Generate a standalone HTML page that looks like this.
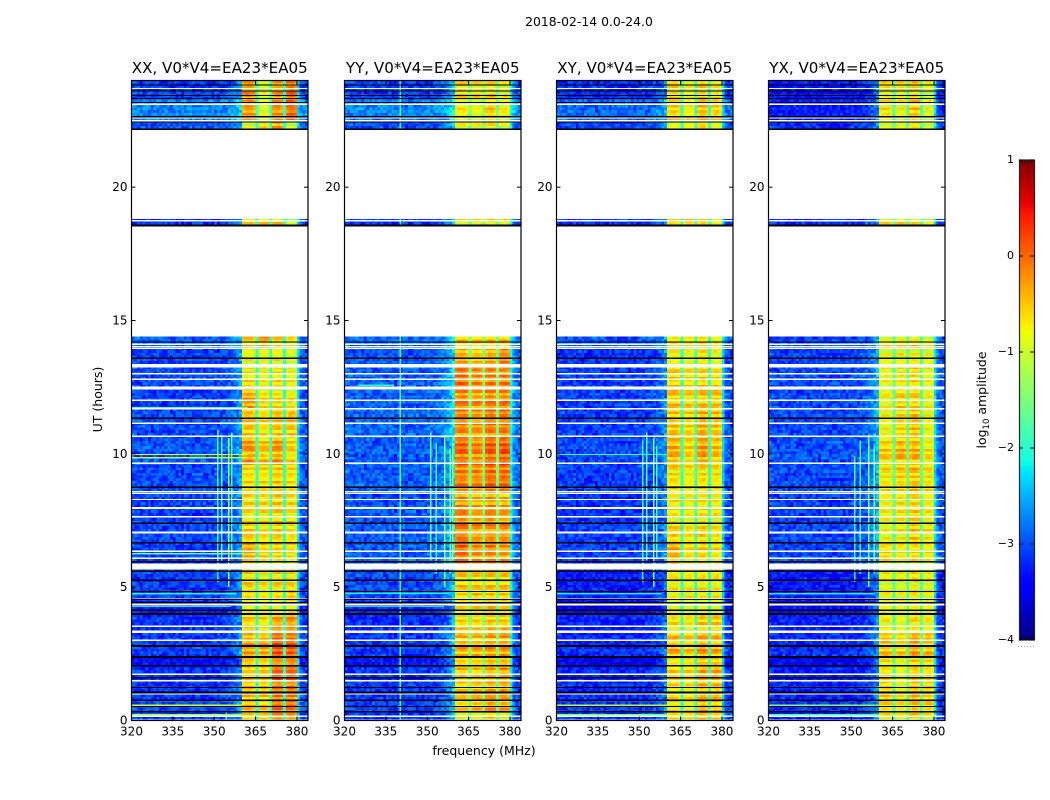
<!DOCTYPE html>
<html>
<head>
<meta charset="utf-8">
<title>2018-02-14 0.0-24.0</title>
<style>
html,body{margin:0;padding:0;background:#fff;width:1050px;height:800px;overflow:hidden}
svg{display:block}
text{font-family:"DejaVu Sans","Liberation Sans",sans-serif;fill:#000}
</style>
</head>
<body>
<svg id="figure" xmlns="http://www.w3.org/2000/svg" width="1050" height="800" viewBox="0 0 1050 800">
  <rect x="0" y="0" width="1050" height="800" fill="#ffffff"/>
  <text x="589" y="26" font-size="12.4" text-anchor="middle">2018-02-14 0.0-24.0</text>
  <text x="484" y="755" font-size="12.5" text-anchor="middle">frequency (MHz)</text>
  <text transform="translate(102,399.5) rotate(-90)" font-size="12.5" text-anchor="middle">UT (hours)</text>
  <text transform="translate(986,400) rotate(-90)" font-size="12.5" text-anchor="middle">log<tspan font-size="8.5" dy="3">10</tspan><tspan dy="-3"> amplitude</tspan></text>
</svg>
<script>
// ---------- chart data ----------
const panelTitles = ["XX, V0*V4=EA23*EA05", "YY, V0*V4=EA23*EA05", "XY, V0*V4=EA23*EA05", "YX, V0*V4=EA23*EA05"];
const freqTicks = [320, 335, 350, 365, 380];
const hourTicks = [0, 5, 10, 15, 20];
const colorbarTicks = [-4, -3, -2, -1, 0, 1];

// time segments with data, hours
const segmentHours = [[0,0.3],[0.3,0.8],[0.8,1.5],[1.5,2.0],[2.0,2.4],[2.4,3.2],[3.2,4.0],[4.0,4.5],[4.5,5.0],[5.0,5.9],[5.9,6.7],[6.7,7.4],[7.4,8.5],[8.5,9.6],[9.6,10.6],[10.6,11.7],[11.7,12.5],[12.5,13.3],[13.3,14.0],[14.0,14.4],[18.5,18.8],[22.1,22.5],[22.5,23.3],[23.3,24.0]];

// background log amplitude per segment
const backgroundXX = [-3.1,-3.0,-3.15,-3.15,-3.4,-3.1,-3.15,-3.3,-3.1,-3.1,-3.1,-3.05,-3.1,-3.05,-3.0,-3.05,-3.1,-3.05,-3.1,-2.95,-3.2,-3.0,-2.75,-3.1];
const backgroundYY = [-3.15,-3.1,-3.15,-3.15,-3.35,-3.15,-3.2,-3.3,-3.05,-3.05,-2.95,-2.95,-3.0,-2.95,-2.95,-2.9,-2.95,-2.95,-3.0,-2.9,-3.1,-3.0,-2.75,-3.1];
const backgroundXY = [-3.15,-3.1,-3.2,-3.25,-3.45,-3.2,-3.25,-3.45,-3.3,-3.3,-3.1,-3.1,-3.15,-3.1,-3.05,-3.1,-3.1,-3.1,-3.15,-3.0,-3.2,-3.1,-2.9,-3.2];
const backgroundYX = [-3.25,-3.2,-3.25,-3.25,-3.45,-3.2,-3.25,-3.4,-3.3,-3.3,-3.05,-3.05,-3.1,-3.05,-3.0,-3.05,-3.05,-3.05,-3.1,-3.05,-3.2,-3.2,-3.3,-3.35];

// four sub-band levels per segment
const bandsXX = [[-.7,-.7,-.3,-.4],[-.45,-.55,-.05,-.05],[-.5,-.55,-.15,-.15],[-.55,-.55,.05,0],[-.55,-.6,-.3,-.2],[-.35,-.35,.1,.05],[-.55,-.65,-.3,-.25],[-.8,-.8,-.8,-.7],[-.7,-.8,-.7,-.6],[-.7,-.8,-.7,-.7],[-.4,-.6,-.6,-.7],[-.6,-.7,-.6,-.7],[-.7,-.7,-.6,-.7],[-.7,-.7,-.6,-.7],[-.35,-.55,-.35,-.65],[-.55,-.7,-.55,-.55],[-.35,-.65,-.65,-.75],[-.7,-.8,-.7,-.8],[-.9,-.9,-.85,-1],[-.7,-.5,-.7,-.85],[-.7,-.6,-.6,-1.2],[-.95,-.7,-.3,-1.05],[-.35,-1,-.3,-.1],[-.35,-1,-.4,-.15]];
const bandsYY = [[-.85,-.8,-.5,-.8],[-.65,-.55,-.35,-.45],[-.65,-.55,-.45,-.45],[-.55,-.55,-.45,-.35],[-.65,-.65,-.55,-.55],[-.45,-.45,-.35,-.35],[-.65,-.65,-.55,-.55],[-.8,-.7,-.6,-.7],[-.7,-.6,-.6,-.6],[-.6,-.6,-.6,-.6],[-.05,-.25,-.2,-.3],[-.1,-.3,-.25,-.25],[-.25,-.4,-.3,-.4],[-.2,-.25,-.1,-.1],[-.05,-.2,0,.05],[-.2,-.3,-.15,-.15],[-.2,-.3,-.2,-.2],[-.1,-.25,-.2,-.2],[-.45,-.55,-.45,-.25],[-.6,-.6,-.6,-.55],[-.7,-.7,-.6,-.7],[-.8,-.8,-.7,-.9],[-.75,-.85,-.55,-.75],[-.65,-.7,-.65,-.85]];
const bandsXY = [[-.8,-.8,-.6,-.7],[-.65,-.7,-.35,-.45],[-.65,-.7,-.45,-.45],[-.65,-.7,-.45,-.45],[-.8,-.8,-.6,-.6],[-.45,-.55,-.35,-.45],[-.7,-.75,-.55,-.55],[-.9,-.9,-.85,-.85],[-.85,-.85,-.8,-.8],[-.8,-.85,-.8,-.8],[-.45,-.7,-.65,-.75],[-.7,-.8,-.7,-.8],[-.75,-.8,-.7,-.75],[-.7,-.8,-.7,-.75],[-.45,-.65,-.35,-.55],[-.55,-.65,-.45,-.55],[-.55,-.65,-.55,-.55],[-.55,-.65,-.55,-.65],[-.85,-.9,-.75,-.9],[-.75,-.75,-.7,-.85],[-.8,-.75,-.75,-1.05],[-1,-.9,-.7,-1],[-.65,-.85,-.55,-.65],[-.65,-.85,-.65,-.75]];
const bandsYX = [[-.8,-.85,-.65,-.85],[-.65,-.75,-.55,-.65],[-.65,-.85,-.55,-.65],[-.65,-.85,-.55,-.65],[-.75,-.85,-.65,-.75],[-.55,-.65,-.4,-.55],[-.75,-.85,-.65,-.75],[-.85,-.9,-.85,-.85],[-.85,-.85,-.8,-.85],[-.85,-.85,-.75,-.85],[-.65,-.75,-.65,-.75],[-.85,-.75,-.55,-.75],[-.85,-.75,-.65,-.85],[-.75,-.65,-.55,-.75],[-.6,-.45,-.45,-.75],[-.85,-.65,-.55,-.85],[-.85,-.65,-.65,-.85],[-.85,-.75,-.65,-.85],[-.85,-.85,-.8,-.9],[-.75,-.65,-.65,-.85],[-.8,-.8,-.8,-1.1],[-.95,-.95,-.75,-1.05],[-.75,-.85,-.55,-.95],[-.75,-.75,-.65,-.95]];

// notch level between sub-bands, per panel
const notchLevels = [-1.9, -1.5, -1.9, -1.7];
const edgeLevels = [-2.3, -2.15, -2.35, -2.3];
const rampGains = [1, 1.5, 0.9, 1.2];

// per-channel role: -1 background, 0-3 sub-band, 4 notch, 5 upper edge
const channelRole = [-1,-1,-1,-1,-1,-1,-1,-1,-1,-1,-1,-1,-1,-1,-1,-1,-1,-1,-1,-1,-1,-1,-1,-1,-1,-1,-1,-1,-1,-1,-1,-1,-1,-1,-1,-1,-1,-1,-1,-1,0,0,0,0,0,4,1,1,1,1,4,2,2,2,2,4,3,3,3,3,5,-1,-1,-1];
// per-channel offset of the spectrum shape
const channelShape = [.06,.03,0,-.02,.03,.05,0,-.05,.02,.04,0,-.03,.02,.05,0,-.02,.03,0,-.04,.02,0,.03,-.02,0,.02,.04,0,-.03,.02,0,.03,.02,.03,.05,.08,.12,.17,.24,.34,.48,-.05,.03,.06,.03,-.08,0,-.05,.04,.05,-.06,0,-.05,.05,.06,-.06,0,-.05,.05,.05,-.08,0,.2,.08,.03];

// fine texture of the noise and row striping
const speckle = [.22,-.31,.08,.35,-.12,-.26,.41,.02,-.18,.29,-.37,.13,.05,-.09,.33,-.24,.17,-.41,.26,.07,-.15,.38,-.28,.11,-.05,.19,-.33,.46,-.2,.03,.24,-.11,-.36,.31,.09,-.22,.15,-.03,.28,-.43,.12,.36,-.17,-.07,.21,-.29,.04];
const rowStripe = [.08,-.12,.18,-.2,.1,.22,-.16,.04,-.24,.16,.12,-.08,.2,-.18,-.04,.14,-.22,.1,.06,-.14,.2,-.1,.02];

// flagged time ranges, hours
const whiteFlagHours = [[14.4,18.55],[18.8,22.18],[0,0.03],[0.14,0.19],[0.98,1.03],[1.46,1.52],[1.71,1.76],[2.98,3.04],[3.29,3.37],[3.51,3.56],[4.32,4.38],[4.52,4.58],[5.66,5.88],[6.06,6.12],[6.31,6.37],[7.02,7.08],[7.61,7.67],[7.94,8.0],[8.26,8.31],[8.5,8.55],[8.56,8.61],[9.62,9.68],[10.63,10.69],[11.12,11.17],[11.66,11.72],[11.98,12.03],[12.42,12.52],[12.76,12.82],[12.98,13.03],[13.23,13.37],[13.94,13.98],[14.0,14.04],[14.09,14.14],[18.72,18.77],[22.47,22.52],[22.58,22.62],[23.08,23.14],[23.68,23.72]];
const blackFlagHours = [[0.3,0.35],[0.5,0.54],[0.74,0.79],[1.02,1.08],[1.21,1.26],[1.58,1.63],[2.02,2.08],[2.34,2.42],[2.76,2.83],[3.95,4.04],[4.1,4.16],[4.38,4.44],[4.51,4.56],[4.81,4.86],[5.24,5.29],[5.56,5.62],[5.93,5.98],[6.64,6.69],[7.36,7.41],[7.4,7.43],[8.72,8.77],[11.31,11.36],[13.56,13.61],[14.17,14.22],[18.53,18.6],[22.15,22.2],[22.42,22.46],[22.62,22.66],[23.16,23.2],[23.31,23.35],[23.41,23.45],[23.58,23.62],[23.81,23.85]];

// narrowband interference: panel, MHz, start hour, end hour, level
const rfiColumns = [
 [0,351,5.2,10.9,-1.9],[0,352.5,6,10.7,-1.7],[0,355,5,10.6,-1.3],[0,356,6.1,10.8,-1.8],[0,354,0,0.3,-1.9],
 [1,340,0,14.4,-1.8],[1,340,18.5,18.8,-1.9],[1,340,22.1,24,-1.8],[1,351,6,10.8,-1.7],[1,353,5.5,10.4,-1.9],[1,356,5,10.7,-1.4],[1,358,5.5,10.2,-1.5],[1,359,6,10.4,-1.4],
 [2,351,5.2,10.5,-1.9],[2,352.5,6,10.8,-1.8],[2,355,5,10.6,-1.4],[2,356,6.1,10.3,-1.8],
 [3,351,5.2,9.9,-1.9],[3,353,5.5,10.5,-1.9],[3,356,5,10.7,-1.4],[3,358,5.5,10.3,-1.6]
];
const rfiRows = [
 [0,10.0,320,362,-0.85],[0,9.88,320,362,-1.1],[0,6.28,320,362,-1.5],[0,0.6,320,360,-1.0],[0,11.75,320,362,-1.6],[0,4.78,320,358,-2.0],[0,0.24,320,360,-1.3],[0,4.3,320,356,-2.2],
 [1,4.8,320,358,-2.1],[1,12.6,325,338,-2.0],[1,4.3,320,356,-2.3],
 [2,10.0,320,360,-1.9],[2,0.6,320,360,-1.2],[2,4.78,320,358,-2.1],[2,0.24,320,360,-1.5],
 [3,0.6,320,360,-1.5],[3,4.78,320,358,-2.1],[3,0.24,320,360,-1.8]
];

// ---------- layout and scales ----------
const SVGNS = 'http://www.w3.org/2000/svg';
const figure = document.getElementById('figure');
const panelBackgrounds = [backgroundXX, backgroundYY, backgroundXY, backgroundYX];
const panelBands = [bandsXX, bandsYY, bandsXY, bandsYX];
const panelLefts = [131.5, 344.5, 556.5, 768.5];
const plotWidth = 176.5;
const plotTop = 80.5;
const plotBottom = 720.5;
const freqMin = 320;
const freqMax = 384;
const hourMax = 24;
const cbX = 1019;
const cbW = 15;
const cbTop = 160;
const cbBottom = 640;

function xScale(panel, f) { return panelLefts[panel] + (f - freqMin) * plotWidth / (freqMax - freqMin); }
function yScale(h) { return plotBottom - h * (plotBottom - plotTop) / hourMax; }
function cbScale(v) { return cbBottom - (v + 4) * (cbBottom - cbTop) / 5; }

function jet(v) {
  const f = Math.max(0, Math.min(1, (v + 4) / 5));
  function interp(pts) {
    for (let i = 1; i < pts.length; i++) {
      if (f <= pts[i][0]) {
        const t = (f - pts[i-1][0]) / (pts[i][0] - pts[i-1][0]);
        return pts[i-1][1] + t * (pts[i][1] - pts[i-1][1]);
      }
    }
    return pts[pts.length-1][1];
  }
  const r = interp([[0,0],[.35,0],[.66,1],[.89,1],[1,.5]]);
  const g = interp([[0,0],[.125,0],[.375,1],[.64,1],[.91,0],[1,0]]);
  const b = interp([[0,.5],[.11,1],[.34,1],[.65,0],[1,0]]);
  return 'rgb(' + Math.round(r*255) + ',' + Math.round(g*255) + ',' + Math.round(b*255) + ')';
}

function makeEl(tag, attrs, parent) {
  const el = document.createElementNS(SVGNS, tag);
  for (const k in attrs) el.setAttribute(k, attrs[k]);
  parent.appendChild(el);
  return el;
}

function cellValue(p, seg, rowIdx, ch) {
  const role = channelRole[ch];
  const sp = speckle[(rowIdx * 31 + ch * ch * 3 + p * 11) % speckle.length];
  const st = rowStripe[(rowIdx + p) % rowStripe.length];
  if (role === -1) {
    return panelBackgrounds[p][seg] + channelShape[ch] * rampGains[p] + sp * 0.7 + st * 0.25;
  }
  if (role === 4) return notchLevels[p] + sp * 0.4;
  if (role === 5) return edgeLevels[p] + sp * 0.4;
  return panelBands[p][seg][role] + channelShape[ch] + st * 1.3 + sp * 0.2;
}

panelTitles.forEach(function (title, p) {
  const g = makeEl('g', {}, figure);
  
  

  const cells = makeEl('g', { 'shape-rendering': 'crispEdges' }, g);
  
  

  // heatmap cells, 1 MHz by 0.1 hour
  segmentHours.forEach(function (span, seg) {
    const rows = Math.round((span[1] - span[0]) * 10);
    for (let r = 0; r < rows; r++) {
      const h0 = span[0] + r * 0.1;
      const h1 = h0 + 0.1;
      const rowIdx = Math.round(h0 * 10);
      for (let ch = 0; ch < channelRole.length; ch++) {
        const x0 = xScale(p, freqMin + ch);
        const x1 = xScale(p, freqMin + ch + 1);
        const cell = makeEl('rect', {
          x: x0.toFixed(2), y: yScale(h1).toFixed(2),
          width: (x1 - x0 + 0.4).toFixed(2), height: (yScale(h0) - yScale(h1) + 0.4).toFixed(2),
          fill: jet(cellValue(p, seg, rowIdx, ch))
        }, cells);
        
        
      }
    }
  });

  // interference streaks
  rfiColumns.filter(function (c) { return c[0] === p; }).forEach(function (c) {
    const mark = makeEl('rect', {
      x: xScale(p, c[1]).toFixed(2), y: yScale(c[3]).toFixed(2),
      width: 1.5, height: (yScale(c[2]) - yScale(c[3])).toFixed(2), fill: jet(c[4])
    }, cells);
    
    
  });
  rfiRows.filter(function (c) { return c[0] === p; }).forEach(function (c) {
    const mark = makeEl('rect', {
      x: xScale(p, c[2]).toFixed(2), y: yScale(c[1]).toFixed(2),
      width: (xScale(p, c[3]) - xScale(p, c[2])).toFixed(2), height: 1.4, fill: jet(c[4])
    }, cells);
    
    
  });

  // flagged rows
  whiteFlagHours.forEach(function (f) {
    const band = makeEl('rect', {
      x: panelLefts[p], y: yScale(f[1]).toFixed(2), width: plotWidth,
      height: (yScale(f[0]) - yScale(f[1])).toFixed(2), fill: '#ffffff'
    }, cells);
    
    
  });
  blackFlagHours.forEach(function (f) {
    const band = makeEl('rect', {
      x: panelLefts[p], y: yScale(f[1]).toFixed(2), width: plotWidth,
      height: Math.max(1, yScale(f[0]) - yScale(f[1])).toFixed(2), fill: '#000000'
    }, cells);
    
    
  });

  // frame
  const frame = makeEl('rect', {
    x: panelLefts[p], y: plotTop, width: plotWidth, height: plotBottom - plotTop,
    fill: 'none', stroke: '#000', 'stroke-width': 1.2
  }, g);
  
  

  // title
  const titleEl = makeEl('text', {
    x: panelLefts[p] + plotWidth / 2, y: 73, 'font-size': 15.1, 'text-anchor': 'middle'
  }, g);
  titleEl.textContent = title;
  
  

  // x ticks
  freqTicks.forEach(function (f) {
    const x = xScale(p, f);
    const t1 = makeEl('line', { x1: x, x2: x, y1: plotBottom, y2: plotBottom - 4, stroke: '#000' }, g);
    
    
    const t2 = makeEl('line', { x1: x, x2: x, y1: plotTop, y2: plotTop + 4, stroke: '#000' }, g);
    
    
    const lab = makeEl('text', { x: x, y: plotBottom + 15, 'font-size': 12, 'text-anchor': 'middle' }, g);
    lab.textContent = String(f);
    
    
  });

  // y ticks
  hourTicks.forEach(function (h) {
    const y = yScale(h);
    const t1 = makeEl('line', { x1: panelLefts[p], x2: panelLefts[p] + 4, y1: y, y2: y, stroke: '#000' }, g);
    
    
    const t2 = makeEl('line', { x1: panelLefts[p] + plotWidth, x2: panelLefts[p] + plotWidth - 4, y1: y, y2: y, stroke: '#000' }, g);
    
    
    const lab = makeEl('text', { x: panelLefts[p] - 4, y: y + 4, 'font-size': 12, 'text-anchor': 'end' }, g);
    lab.textContent = String(h);
    
    
  });
});

// ---------- colorbar ----------
const cbGroup = makeEl('g', {}, figure);


const cbSteps = 200;
for (let i = 0; i < cbSteps; i++) {
  const v0 = -4 + 5 * i / cbSteps;
  const v1 = -4 + 5 * (i + 1) / cbSteps;
  const seg = makeEl('rect', {
    x: cbX, y: cbScale(v1).toFixed(2), width: cbW, height: (cbScale(v0) - cbScale(v1)).toFixed(2),
    fill: jet((v0 + v1) / 2), 'shape-rendering': 'crispEdges'
  }, cbGroup);
  
  
}
const cbFrame = makeEl('rect', {
  x: cbX + 0.5, y: cbTop, width: cbW, height: cbBottom - cbTop, fill: 'none', stroke: '#222', 'stroke-width': 1.2
}, cbGroup);


colorbarTicks.forEach(function (v) {
  const y = cbScale(v);
  const t1 = makeEl('line', { x1: cbX, x2: cbX + 4, y1: y, y2: y, stroke: '#000' }, cbGroup);
  
  
  const t2 = makeEl('line', { x1: cbX + cbW - 4, x2: cbX + cbW, y1: y, y2: y, stroke: '#000' }, cbGroup);
  
  
  const lab = makeEl('text', { x: cbX - 5, y: y + 3, 'font-size': 11, 'text-anchor': 'end' }, cbGroup);
  lab.textContent = String(v).replace('-', '\u2212');
  
  
});
for (let i = 1; i <= 4; i++) {
  const x = cbX + i * 3;
  const m1 = makeEl('line', { x1: x, x2: x, y1: cbTop, y2: cbTop + 4, stroke: '#000', 'stroke-width': 0.8 }, cbGroup);
  
  
  const m2 = makeEl('line', { x1: x, x2: x, y1: cbBottom, y2: cbBottom - 4, stroke: '#000', 'stroke-width': 0.8 }, cbGroup);
  
  
}
for (let i = 0; i < 6; i++) {
  const dot = makeEl('rect', { x: cbX - 1 + i * 3, y: 646, width: 1, height: 1, fill: '#999' }, cbGroup);
  
  
}
</script>
</body>
</html>
